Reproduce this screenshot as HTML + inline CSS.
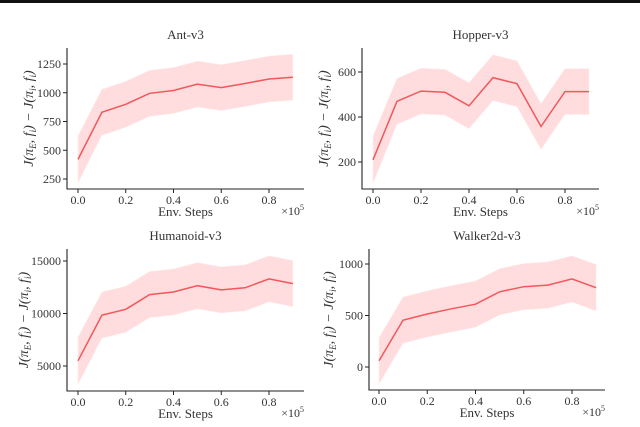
<!DOCTYPE html>
<html><head><meta charset="utf-8"><style>
body{margin:0;background:#fff}
svg, svg text{font-family:"Liberation Serif","DejaVu Serif",serif}
</style></head><body>
<svg id="c" width="640" height="422" viewBox="0 0 640 422" font-family="Liberation Serif, DejaVu Serif, serif">
<rect x="0" y="0" width="640" height="3" fill="#111"/>
</svg>
<script>
const steps=[0,0.1,0.2,0.3,0.4,0.5,0.6,0.7,0.8,0.9];
const xTicks=[0,0.2,0.4,0.6,0.8];
const antMean=[420,830,900,995,1020,1075,1045,1080,1120,1135];
const antStd=[205,200,200,200,200,200,200,200,200,200];
const antTicks=[250,500,750,1000,1250];
const hopMean=[210,470,515,510,450,575,548,358,513,513];
const hopStd=[105,102,102,102,102,102,102,102,102,102];
const hopTicks=[200,400,600];
const humMean=[5500,9850,10400,11800,12050,12650,12250,12450,13300,12850];
const humStd=[2250,2200,2200,2200,2200,2200,2200,2200,2200,2200];
const humTicks=[5000,10000,15000];
const walMean=[60,455,515,565,610,730,780,795,855,770];
const walStd=[225,225,225,225,225,225,225,225,225,225];
const walTicks=[0,500,1000];
const NS="http://www.w3.org/2000/svg";
const FF="Liberation Serif, DejaVu Serif, serif";
const svg=document.getElementById('c');
function mk(tag,attrs,parent,text){const e=document.createElementNS(NS,tag);for(const k in attrs)e.setAttribute(k,attrs[k]);if(tag==='text')e.setAttribute('font-family',FF);if(text!==undefined)e.textContent=text;parent.appendChild(e);return e;}
function panel(o){
  const g=mk('g',{},svg);
  
  
  const sx=v=>o.x0+(v-0)*(o.x8-o.x0)/0.8;
  const sy=v=>o.yA+(v-o.vA)*(o.yB-o.yA)/(o.vB-o.vA);
  let d='';
  steps.forEach((s,i)=>{d+=(i?'L':'M')+sx(s).toFixed(1)+','+sy(o.mean[i]+o.std[i]).toFixed(1);});
  for(let i=steps.length-1;i>=0;i--)d+='L'+sx(steps[i]).toFixed(1)+','+sy(o.mean[i]-o.std[i]).toFixed(1);
  const band=mk('path',{d:d+'Z',fill:'#ffdcdd',stroke:'#fff0f0','stroke-width':0.6},g);
  
  
  let l='';
  steps.forEach((s,i)=>{l+=(i?'L':'M')+sx(s).toFixed(1)+','+sy(o.mean[i]).toFixed(1);});
  const line=mk('path',{d:l,fill:'none',stroke:'#f0585c','stroke-width':1.5},g);
  
  
  const ax=mk('path',{d:`M${o.left},${o.top}V${o.bottom}H${o.right}`,fill:'none',stroke:'#222','stroke-width':1.1},g);
  
  
  xTicks.forEach(t=>{
    mk('line',{x1:sx(t),x2:sx(t),y1:o.bottom,y2:o.bottom+4,stroke:'#222'},g);
    const tx=mk('text',{x:sx(t),y:o.bottom+15,'font-size':12,'text-anchor':'middle',fill:'#333'},g,t.toFixed(1));
    
    
  });
  o.ticks.forEach(t=>{
    mk('line',{x1:o.left-4,x2:o.left,y1:sy(t),y2:sy(t),stroke:'#222'},g);
    const ty=mk('text',{x:o.left-6,y:sy(t)+4,'font-size':12,'text-anchor':'end',fill:'#333'},g,String(t));
    
    
  });
  const cx=(o.left+o.right)/2;
  const ti=mk('text',{x:cx,y:o.top-9,'font-size':13,'text-anchor':'middle',fill:'#333'},g,o.title);
  
  
  const xl=mk('text',{x:cx,y:o.bottom+27,'font-size':13,'text-anchor':'middle',fill:'#333'},g,'Env. Steps');
  
  
  const ex=mk('text',{x:o.right,y:o.bottom+26,'font-size':12,'text-anchor':'end',fill:'#333'},g);
  
  
  ex.innerHTML='×10<tspan dy="-5" font-size="8">5</tspan>';
  const ycx=o.ylx, ycy=(o.top+o.bottom)/2;
  const yl=mk('text',{x:ycx,y:ycy,'font-size':14,'font-style':'italic','text-anchor':'middle',fill:'#333',transform:`rotate(-90 ${ycx} ${ycy})`},g);
  
  
  yl.innerHTML='J(π<tspan dy="3" font-size="9">E</tspan><tspan dy="-3">, f</tspan><tspan dy="3" font-size="9">i</tspan><tspan dy="-3">) − J(π</tspan><tspan dy="3" font-size="9">i</tspan><tspan dy="-3">, f</tspan><tspan dy="3" font-size="9">i</tspan><tspan dy="-3">)</tspan>';
}
panel({id:'ant',title:'Ant-v3',mean:antMean,std:antStd,ticks:antTicks,left:67,right:304,top:48,bottom:189,x0:78,x8:269,vA:1250,yA:64,vB:250,yB:179,ylx:33});
panel({id:'hopper',title:'Hopper-v3',mean:hopMean,std:hopStd,ticks:hopTicks,left:362,right:599,top:48,bottom:189,x0:373,x8:565,vA:600,yA:72,vB:200,yB:162,ylx:328});
panel({id:'humanoid',title:'Humanoid-v3',mean:humMean,std:humStd,ticks:humTicks,left:67,right:304,top:249,bottom:391,x0:78,x8:269,vA:15000,yA:261,vB:5000,yB:366,ylx:28});
panel({id:'walker',title:'Walker2d-v3',mean:walMean,std:walStd,ticks:walTicks,left:369,right:605,top:249,bottom:390,x0:379,x8:572,vA:1000,yA:264,vB:0,yB:367,ylx:333});
</script>
</body></html>
